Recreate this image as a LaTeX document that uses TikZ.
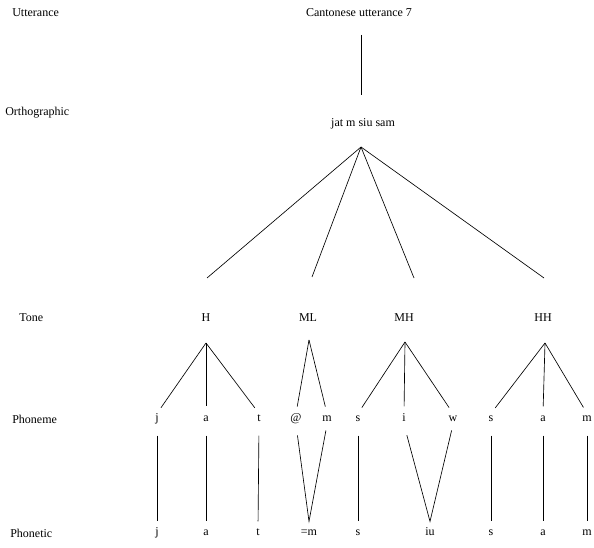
\documentclass[tikz,border=0pt]{standalone}
\usepackage{fontspec}
\setmainfont{Liberation Serif}
\tikzset{
	lvl/.style = {anchor=west},
	seg/.style = {text height=8pt, text depth=2.5pt},
	down/.style = {shorten <=11pt, shorten >=6pt},
	fan/.style = {shorten >=7pt}
}
\begin{document}
\begin{tikzpicture}[x=1pt, y=-1pt, line width=0.65pt,
	every node/.style={font=\fontsize{12}{14}\selectfont, inner sep=0pt}]
	\useasboundingbox (0,0) rectangle (594,548);
	% tier names
	\node (Lutt)	at ( 12,  13)	[lvl]	{Utterance};
	\node (Lorth)	at (  5, 113)	[lvl]	{Orthographic};
	\node (Ltone)	at ( 19, 318)	[lvl]	{Tone};
	\node (Lphm)	at ( 12, 419)	[lvl]	{Phoneme};
	\node (Lpht)	at ( 10, 533)	[lvl]	{Phonetic};
	% utterance and orthography
	\node (utt)	at (359,  13)	{Cantonese utterance 7};
	\node (orth)	at (363, 124)	{jat m siu sam};
	\coordinate (utt-foot)	at (361,  35);
	\coordinate (orth-head)	at (361,  95);
	\coordinate (orth-apex)	at (361, 147);
	\draw (utt-foot) -- (orth-head);
	% tones
	\node (H)	at (206, 318)	{H};
	\node (ML)	at (308, 318)	{ML};
	\node (MH)	at (404, 318)	{MH};
	\node (HH)	at (543, 318)	{HH};
	\coordinate (H-top)	at (207, 278);
	\coordinate (ML-top)	at (312, 277);
	\coordinate (MH-top)	at (414, 278);
	\coordinate (HH-top)	at (544, 278);
	\draw (orth-apex) -- (H-top);
	\draw (orth-apex) -- (ML-top);
	\draw (orth-apex) -- (MH-top);
	\draw (orth-apex) -- (HH-top);
	\coordinate (H-apex)	at (206, 343);
	\coordinate (ML-apex)	at (309, 340);
	\coordinate (MH-apex)	at (405, 342);
	\coordinate (HH-apex)	at (545, 343);
	% phonemes
	\node (p1)	at (157, 419)	[seg]	{j};
	\node (p2)	at (206, 419)	[seg]	{a};
	\node (p3)	at (259, 419)	[seg]	{t};
	\node (p4)	at (296, 419)	[seg]	{@};
	\node (p5)	at (327, 419)	[seg]	{m};
	\node (p6)	at (358, 419)	[seg]	{s};
	\node (p7)	at (404, 419)	[seg]	{i};
	\node (p8)	at (453, 419)	[seg]	{w};
	\node (p9)	at (491, 419)	[seg]	{s};
	\node (p10)	at (543, 419)	[seg]	{a};
	\node (p11)	at (587, 419)	[seg]	{m};
	\foreach \p in {p1,p2,p3}
		\draw[fan] (H-apex) -- (\p.north);
	\foreach \p in {p4,p5}
		\draw[fan] (ML-apex) -- (\p.north);
	\foreach \p in {p6,p7,p8}
		\draw[fan] (MH-apex) -- (\p.north);
	\foreach \p in {p9,p10,p11}
		\draw[fan] (HH-apex) -- (\p.north);
	% phonetic
	\node (q1)	at (157, 533)	[seg]	{j};
	\node (q2)	at (206, 533)	[seg]	{a};
	\node (q3)	at (258, 533)	[seg]	{t};
	\node (q4)	at (309, 533)	[seg]	{=m};
	\node (q5)	at (358, 533)	[seg]	{s};
	\node (q6)	at (430, 533)	[seg]	{iu};
	\node (q7)	at (491, 533)	[seg]	{s};
	\node (q8)	at (543, 533)	[seg]	{a};
	\node (q9)	at (587, 533)	[seg]	{m};
	\draw[down] (p1.south) -- (q1.north);
	\draw[down] (p2.south) -- (q2.north);
	\draw[down] (p3.south) -- (q3.north);
	\draw[down] (p4.south) -- ([yshift=6pt]q4.north) -- (p5.south);
	\draw[down] (p6.south) -- (q5.north -| p6.south);
	\draw[down] (p7.south) -- ([yshift=6pt]q6.north) -- (p8.south);
	\draw[down] (p9.south) -- (q7.north);
	\draw[down] (p10.south) -- (q8.north);
	\draw[down] (p11.south) -- (q9.north);
\end{tikzpicture}
\end{document}
